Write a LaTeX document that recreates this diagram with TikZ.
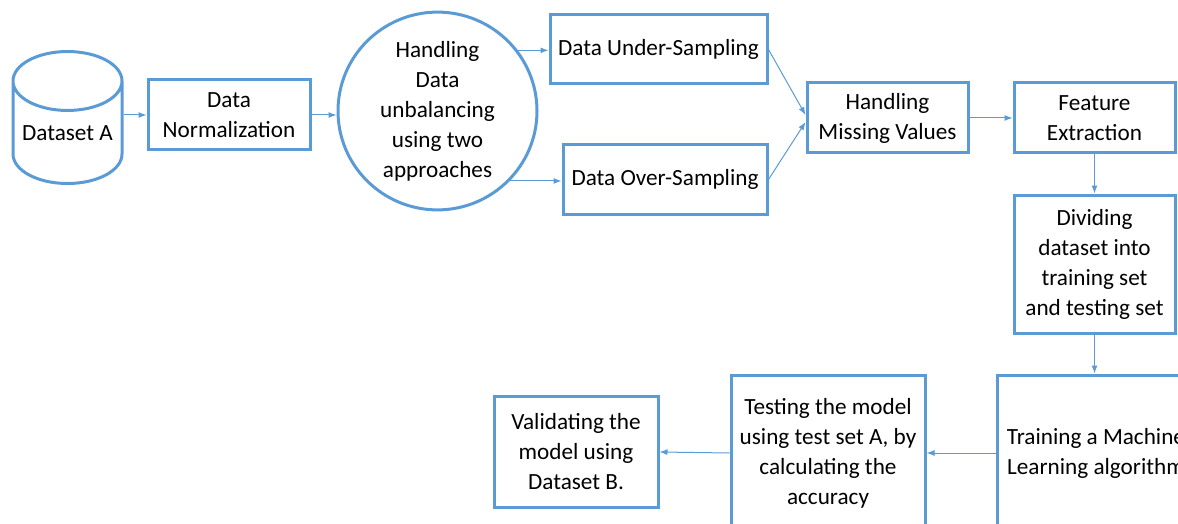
\documentclass[tikz,border=0pt]{standalone}
\usepackage{fontspec}
\setmainfont{Carlito}
\usetikzlibrary{arrows.meta,shapes.geometric}
\definecolor{boxblue}{HTML}{5B9BD5}
\tikzset{>={Latex[length=8pt,width=6pt]}}

\begin{document}
\begin{tikzpicture}[x=1pt,y=-1pt]
	\tikzstyle{stage} = [rectangle, draw=boxblue, line width=3pt, align=center, inner sep=0pt, font=\fontsize{23.2}{30}\selectfont]
	\tikzstyle{stage_round} = [ellipse, draw=boxblue, line width=3pt, align=center, inner sep=0pt, font=\fontsize{23.2}{30}\selectfont]
	\tikzstyle{store} = [cylinder, shape border rotate=90, aspect=0.65, draw=boxblue, line width=3pt, inner sep=0pt, font=\fontsize{23.2}{30}\selectfont]
	\tikzstyle{flow} = [->, color=boxblue, line width=1pt]

	\useasboundingbox (0,0) rectangle (1178,524);
	\clip (0,0) rectangle (1178,524);

%----------first row------------------------------
	\node[store, minimum width=109, minimum height=132] (dsa) at (67.5,133) {Dataset A};
	\node[stage, minimum width=162, minimum height=70] (norm) at (229,115) {Data\\Normalization};
	\node[stage_round, minimum width=199, minimum height=192] (unbal) at (437.5,111) {Handling\\Data\\unbalancing\\using two\\approaches};

	\path[flow] (dsa.east |- norm.west) edge (norm.west);
	\path[flow] (norm.east) edge (norm.east -| unbal.west);

%----------sampling------------------------------
	\node[stage, minimum width=217, minimum height=69] (under) at (658.5,49.5) {Data Under-Sampling};
	\node[stage, minimum width=204, minimum height=69] (over) at (665,179.5) {Data Over-Sampling};

	\path[flow] (unbal.37) edge (unbal.37 -| under.west);
	\path[flow] (unbal.-44) edge (unbal.-44 -| over.west);

%----------preprocessing------------------------------
	\node[stage, minimum width=161, minimum height=70] (miss) at (887.5,118) {Handling\\Missing Values};
	\node[stage, minimum width=161, minimum height=70] (feat) at (1094.5,118) {Feature\\Extraction};
	\node[stage, minimum width=161, minimum height=138] (split) at (1094.5,264) {Dividing\\dataset into\\training set\\and testing set};

	\path[flow] (under.east) edge ([yshift=3pt]miss.west);
	\path[flow] (over.east) edge ([yshift=-4pt]miss.west);
	\path[flow] (miss.east) edge (feat.west);
	\path[flow] (feat.south) edge (split.north);

%----------model------------------------------
	\node[stage, minimum width=198, minimum height=156] (train) at (1096,453) {Training a Machine\\Learning algorithm};
	\node[stage, minimum width=194, minimum height=156] (test) at (828,453) {Testing the model\\using test set A, by\\calculating the\\accuracy};
	\node[stage, minimum width=164, minimum height=111] (valid) at (576,452) {Validating the\\model using\\Dataset B.};

	\path[flow] (split.south) edge (split.south |- train.north);
	\path[flow] (train.west) edge (test.east);
	\path[flow] (test.west) edge (valid.east);
\end{tikzpicture}
\end{document}
